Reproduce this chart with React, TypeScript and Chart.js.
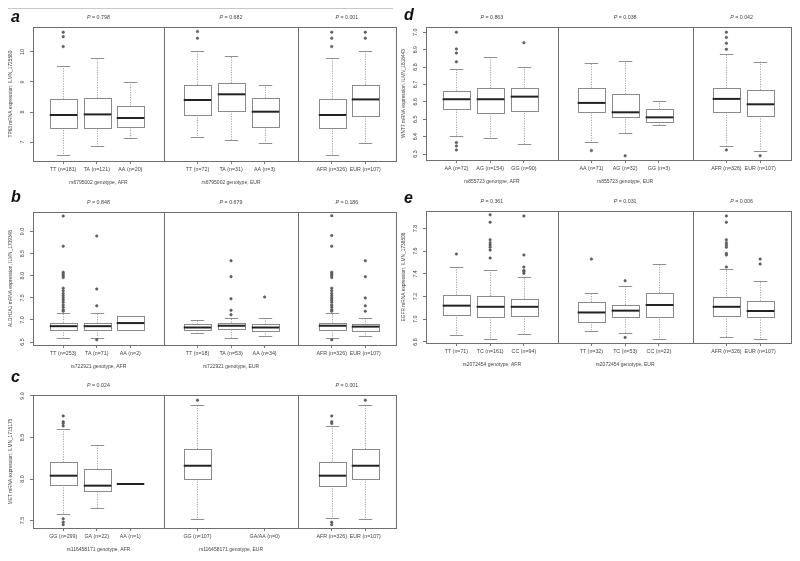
import React, { useEffect, useRef } from "react";
import { Chart, registerables } from "chart.js";
Chart.register(...registerables);

const FONT = "'Liberation Sans', Arial, Helvetica, sans-serif";

// ---------------- Panel a : TP63 / rs6795002 ----------------
const aLabels = ["TT (n=181)", "TA (n=121)", "AA (n=20)", "TT (n=72)", "TA (n=31)", "AA (n=3)", "AFR (n=326)", "EUR (n=107)"];
const aPos = [1, 2, 3, 5, 6, 7, 9, 10];
const aLow = [6.57, 6.87, 7.14, 7.18, 7.07, 6.98, 6.57, 6.96];
const aQ1 = [7.48, 7.46, 7.49, 7.9, 8.03, 7.49, 7.46, 7.88];
const aMed = [7.9, 7.92, 7.8, 8.4, 8.59, 8.01, 7.9, 8.42];
const aQ3 = [8.42, 8.46, 8.21, 8.9, 8.96, 8.46, 8.42, 8.9];
const aHigh = [9.54, 9.79, 8.99, 10.04, 9.88, 8.9, 9.79, 10.04];
const aOut = [[10.66, 10.51, 10.18], [], [], [10.68, 10.46], [], [], [10.66, 10.46, 10.18], [10.66, 10.46]];
const aYTicks = [7, 8, 9, 10];
const aYTickLabels = ["7", "8", "9", "10"];
const aP = ["P = 0.798", "P = 0.682", "P = 0.001"];
const aSub = ["rs6795002 genotype, AFR", "rs6795002 genotype, EUR"];
const aYTitle = "TP63 mRNA expression, ILMN_1725580";

// ---------------- Panel b : ALDH1A1 / rs722921 ----------------
const bLabels = ["TT (n=253)", "TA (n=71)", "AA (n=2)", "TT (n=18)", "TA (n=53)", "AA (n=34)", "AFR (n=326)", "EUR (n=107)"];
const bPos = [1, 2, 3, 5, 6, 7, 9, 10];
const bLow = [6.6, 6.6, 6.77, 6.71, 6.6, 6.64, 6.59, 6.64];
const bQ1 = [6.78, 6.78, 6.77, 6.77, 6.79, 6.76, 6.77, 6.76];
const bMed = [6.86, 6.86, 6.93, 6.83, 6.87, 6.83, 6.87, 6.85];
const bQ3 = [6.94, 6.94, 7.09, 6.9, 6.94, 6.9, 6.94, 6.9];
const bHigh = [7.15, 7.15, 7.09, 7.0, 7.04, 7.04, 7.15, 7.04];
const bOut = [
  [9.35, 8.67, 8.08, 8.04, 8.0, 7.96, 7.72, 7.66, 7.6, 7.55, 7.5, 7.45, 7.4, 7.34, 7.29, 7.23, 7.2],
  [8.9, 7.7, 7.32, 6.55],
  [],
  [],
  [8.34, 7.98, 7.48, 7.22, 7.12],
  [7.52],
  [9.36, 8.91, 8.67, 8.08, 8.04, 8.0, 7.96, 7.72, 7.66, 7.6, 7.55, 7.5, 7.45, 7.4, 7.34, 7.29, 7.23, 7.2, 6.55],
  [8.34, 7.98, 7.5, 7.32, 7.2],
];
const bYTicks = [6.5, 7, 7.5, 8, 8.5, 9];
const bYTickLabels = ["6.5", "7.0", "7.5", "8.0", "8.5", "9.0"];
const bP = ["P = 0.848", "P = 0.679", "P = 0.186"];
const bSub = ["rs722921 genotype, AFR", "rs722921 genotype, EUR"];
const bYTitle = "ALDH1A1 mRNA expression, ILMN_1709348";

// ---------------- Panel c : MET / rs116458171 ----------------
const cLabels = ["GG (n=299)", "GA (n=22)", "AA (n=1)", "GG (n=107)", "GA/AA (n=0)", "AFR (n=326)", "EUR (n=107)"];
const cPos = [1, 2, 3, 5, 7, 9, 10];
const cLow = [7.58, 7.65, 7.94, 7.52, null, 7.53, 7.52];
const cQ1 = [7.93, 7.85, 7.94, 8.0, null, 7.92, 8.0];
const cMed = [8.04, 7.92, 7.94, 8.16, null, 8.04, 8.16];
const cQ3 = [8.2, 8.12, 7.94, 8.36, null, 8.21, 8.36];
const cHigh = [8.6, 8.41, 7.94, 8.89, null, 8.64, 8.89];
const cOut = [[8.76, 8.69, 8.67, 8.64, 7.52, 7.48, 7.45], [], [], [8.95], [], [8.76, 8.69, 8.67, 7.48, 7.45], [8.95]];
const cYTicks = [7.5, 8, 8.5, 9];
const cYTickLabels = ["7.5", "8.0", "8.5", "9.0"];
const cP = ["P = 0.024", null, "P = 0.001"];
const cSub = ["rs116458171 genotype, AFR", "rs116458171 genotype, EUR"];
const cYTitle = "MET mRNA expression, ILMN_1715175";

// ---------------- Panel d : WNT7 / rs855723 ----------------
const dLabels = ["AA (n=72)", "AG (n=154)", "GG (n=90)", "AA (n=71)", "AG (n=32)", "GG (n=3)", "AFR (n=326)", "EUR (n=107)"];
const dPos = [1, 2, 3, 5, 6, 7, 9, 10];
const dLow = [6.404, 6.39, 6.358, 6.368, 6.42, 6.467, 6.348, 6.32];
const dQ1 = [6.557, 6.535, 6.55, 6.54, 6.515, 6.486, 6.54, 6.52];
const dMed = [6.615, 6.615, 6.63, 6.594, 6.54, 6.511, 6.617, 6.586];
const dQ3 = [6.664, 6.678, 6.682, 6.682, 6.645, 6.557, 6.678, 6.668];
const dHigh = [6.79, 6.86, 6.8, 6.825, 6.835, 6.605, 6.875, 6.831];
const dOut = [[7.0, 6.904, 6.88, 6.83, 6.366, 6.347, 6.324], [], [6.94], [6.32], [6.29], [], [7.0, 6.97, 6.937, 6.902, 6.324], [6.29]];
const dYTicks = [6.3, 6.4, 6.5, 6.6, 6.7, 6.8, 6.9, 7.0];
const dYTickLabels = ["6.3", "6.4", "6.5", "6.6", "6.7", "6.8", "6.9", "7.0"];
const dP = ["P = 0.863", "P = 0.038", "P = 0.042"];
const dSub = ["rs855723 genotype, AFR", "rs855723 genotype, EUR"];
const dYTitle = "WNT7 mRNA expression, ILMN_1818443";

// ---------------- Panel e : EGFR / rs2072454 ----------------
const eLabels = ["TT (n=71)", "TC (n=161)", "CC (n=94)", "TT (n=32)", "TC (n=53)", "CC (n=22)", "AFR (n=326)", "EUR (n=107)"];
const ePos = [1, 2, 3, 5, 6, 7, 9, 10];
const eLow = [6.86, 6.83, 6.87, 6.9, 6.88, 6.826, 6.84, 6.826];
const eQ1 = [7.04, 7.02, 7.03, 6.98, 7.023, 7.023, 7.03, 7.02];
const eMed = [7.12, 7.11, 7.11, 7.06, 7.076, 7.126, 7.11, 7.073];
const eQ3 = [7.21, 7.205, 7.176, 7.15, 7.126, 7.23, 7.2, 7.164];
const eHigh = [7.46, 7.43, 7.37, 7.23, 7.29, 7.485, 7.44, 7.34];
const eOut = [
  [7.575],
  [7.92, 7.855, 7.7, 7.675, 7.655, 7.635, 7.61, 7.54],
  [7.91, 7.567, 7.46, 7.43, 7.42, 7.405],
  [7.53],
  [7.34, 6.84],
  [],
  [7.91, 7.855, 7.7, 7.675, 7.655, 7.635, 7.58, 7.567, 7.46],
  [7.53, 7.487],
];
const eYTicks = [6.8, 7.0, 7.2, 7.4, 7.6, 7.8];
const eYTickLabels = ["6.8", "7.0", "7.2", "7.4", "7.6", "7.8"];
const eP = ["P = 0.361", "P = 0.031", "P = 0.006"];
const eSub = ["rs2072454 genotype, AFR", "rs2072454 genotype, EUR"];
const eYTitle = "EGFR mRNA expression, ILMN_1738508";

// x-range and sub-panel boundaries (in slot units)
const X_MIN = 0.1;
const X_MAX = 10.9;
const SUB_BOUNDS = [[0.1, 4], [4, 8], [8, 10.9]];

type Cfg = any;

const PANELS: Cfg[] = [
  { letter: "a", L: 33, T: 27, R: 397, B: 161, lx: 11, ly: 22, yMin: 6.367, yMax: 10.833, rule: true,
    labels: aLabels, pos: aPos, lo: aLow, q1: aQ1, med: aMed, q3: aQ3, hi: aHigh, out: aOut,
    yTicks: aYTicks, yTickLabels: aYTickLabels, p: aP, sub: aSub, yTitle: aYTitle },
  { letter: "b", L: 33, T: 212, R: 397, B: 345, lx: 11, ly: 202, yMin: 6.434, yMax: 9.443,
    labels: bLabels, pos: bPos, lo: bLow, q1: bQ1, med: bMed, q3: bQ3, hi: bHigh, out: bOut,
    yTicks: bYTicks, yTickLabels: bYTickLabels, p: bP, sub: bSub, yTitle: bYTitle },
  { letter: "c", L: 33, T: 395, R: 397, B: 528, lx: 11, ly: 382, yMin: 7.41, yMax: 9.012,
    labels: cLabels, pos: cPos, lo: cLow, q1: cQ1, med: cMed, q3: cQ3, hi: cHigh, out: cOut,
    yTicks: cYTicks, yTickLabels: cYTickLabels, p: cP, sub: cSub, yTitle: cYTitle },
  { letter: "d", L: 426, T: 27, R: 792, B: 160, lx: 404, ly: 20, yMin: 6.266, yMax: 7.03,
    labels: dLabels, pos: dPos, lo: dLow, q1: dQ1, med: dMed, q3: dQ3, hi: dHigh, out: dOut,
    yTicks: dYTicks, yTickLabels: dYTickLabels, p: dP, sub: dSub, yTitle: dYTitle },
  { letter: "e", L: 426, T: 211, R: 792, B: 343, lx: 404, ly: 203, yMin: 6.791, yMax: 7.954,
    labels: eLabels, pos: ePos, lo: eLow, q1: eQ1, med: eMed, q3: eQ3, hi: eHigh, out: eOut,
    yTicks: eYTicks, yTickLabels: eYTickLabels, p: eP, sub: eSub, yTitle: eYTitle },
];

const PAD_L = 33, PAD_T = 27, PAD_R = 3, X_H = 34, Y_W = 4;

function seg(ctx: CanvasRenderingContext2D, x1: number, y1: number, x2: number, y2: number) {
  ctx.beginPath();
  ctx.moveTo(x1, y1);
  ctx.lineTo(x2, y2);
  ctx.stroke();
}

function drawP(ctx: CanvasRenderingContext2D, text: string, cx: number, y: number) {
  const head = text.slice(0, 1);
  const rest = text.slice(1);
  const fi = `italic 5.3px ${FONT}`;
  const fn = `5.3px ${FONT}`;
  ctx.font = fi;
  const w1 = ctx.measureText(head).width;
  ctx.font = fn;
  const w2 = ctx.measureText(rest).width;
  const x0 = cx - (w1 + w2) / 2;
  ctx.textAlign = "left";
  ctx.textBaseline = "middle";
  ctx.font = fi;
  ctx.fillText(head, x0, y);
  ctx.font = fn;
  ctx.fillText(rest, x0 + w1, y);
}

function Panel({ cfg }: { cfg: Cfg }) {
  const ref = useRef<HTMLCanvasElement>(null);
  const w = cfg.R - cfg.L + PAD_L + PAD_R;
  const h = cfg.B - cfg.T + PAD_T + X_H;
  const ox = cfg.L - PAD_L;
  const oy = cfg.T - PAD_T;

  useEffect(() => {
    const outData: { x: number; y: number }[] = [];
    cfg.out.forEach((arr: number[], i: number) => arr.forEach((v) => outData.push({ x: cfg.pos[i], y: v })));

    const plugin = {
      id: "boxplot_" + cfg.letter,
      beforeDatasetsDraw(chart: any) {
        const ctx = chart.ctx as CanvasRenderingContext2D;
        const xs = chart.scales.x, ys = chart.scales.y;
        const unit = xs.getPixelForValue(1) - xs.getPixelForValue(0);
        const hw = 0.41 * unit, cw = 0.2 * unit;
        ctx.save();
        for (let i = 0; i < cfg.pos.length; i++) {
          const med = cfg.med[i];
          if (med == null) continue;
          const cx = Math.round(xs.getPixelForValue(cfg.pos[i])) + 0.5;
          const pLo = ys.getPixelForValue(cfg.lo[i]);
          const pQ1 = ys.getPixelForValue(cfg.q1[i]);
          const pMed = ys.getPixelForValue(med);
          const pQ3 = ys.getPixelForValue(cfg.q3[i]);
          const pHi = ys.getPixelForValue(cfg.hi[i]);
          ctx.strokeStyle = "#8f8f8f";
          ctx.lineWidth = 0.8;
          ctx.setLineDash([1.2, 1.3]);
          if (cfg.hi[i] > cfg.q3[i]) seg(ctx, cx, pQ3, cx, pHi);
          if (cfg.lo[i] < cfg.q1[i]) seg(ctx, cx, pQ1, cx, pLo);
          ctx.setLineDash([]);
          ctx.lineWidth = 1;
          if (cfg.hi[i] > cfg.q3[i]) seg(ctx, cx - cw, Math.round(pHi) + 0.5, cx + cw, Math.round(pHi) + 0.5);
          if (cfg.lo[i] < cfg.q1[i]) seg(ctx, cx - cw, Math.round(pLo) + 0.5, cx + cw, Math.round(pLo) + 0.5);
          if (cfg.q3[i] > cfg.q1[i]) {
            const x0 = Math.round(cx - hw) + 0.5;
            const x1 = Math.round(cx + hw) + 0.5;
            const y0 = Math.round(pQ3) + 0.5;
            const y1 = Math.round(pQ1) + 0.5;
            ctx.fillStyle = "#ffffff";
            ctx.fillRect(x0, y0, x1 - x0, y1 - y0);
            ctx.strokeStyle = "#8a8a8a";
            ctx.strokeRect(x0, y0, x1 - x0, y1 - y0);
          }
          ctx.strokeStyle = "#222222";
          ctx.lineWidth = 2;
          seg(ctx, cx - hw, pMed, cx + hw, pMed);
        }
        ctx.restore();
      },
      afterDraw(chart: any) {
        const ctx = chart.ctx as CanvasRenderingContext2D;
        const ca = chart.chartArea;
        const xs = chart.scales.x, ys = chart.scales.y;
        ctx.save();
        // frame and sub-panel dividers
        ctx.strokeStyle = "#6f6f6f";
        ctx.lineWidth = 1;
        ctx.strokeRect(Math.round(ca.left) + 0.5, Math.round(ca.top) + 0.5, Math.round(ca.right - ca.left), Math.round(ca.bottom - ca.top));
        for (let k = 1; k < SUB_BOUNDS.length; k++) {
          const xp = Math.round(xs.getPixelForValue(SUB_BOUNDS[k][0])) + 0.5;
          seg(ctx, xp, ca.top, xp, ca.bottom);
        }
        // y tick labels (rotated, like R)
        ctx.fillStyle = "#444";
        ctx.font = `5.3px ${FONT}`;
        ctx.textAlign = "center";
        ctx.textBaseline = "middle";
        cfg.yTicks.forEach((v: number, i: number) => {
          const yp = ys.getPixelForValue(v);
          ctx.save();
          ctx.translate(ca.left - 10, yp);
          ctx.rotate(-Math.PI / 2);
          ctx.fillText(cfg.yTickLabels[i], 0, 0);
          ctx.restore();
        });
        // y title
        ctx.save();
        ctx.font = `4.8px ${FONT}`;
        ctx.translate(ca.left - 22, (ca.top + ca.bottom) / 2);
        ctx.rotate(-Math.PI / 2);
        ctx.fillText(cfg.yTitle, 0, 0);
        ctx.restore();
        // P values and sub-panel titles
        SUB_BOUNDS.forEach((b, k) => {
          const cx = (xs.getPixelForValue(b[0]) + xs.getPixelForValue(b[1])) / 2;
          if (cfg.p[k]) drawP(ctx, cfg.p[k], cx, ca.top - 9);
          if (cfg.sub[k]) {
            ctx.font = `5px ${FONT}`;
            ctx.textAlign = "center";
            ctx.textBaseline = "middle";
            ctx.fillText(cfg.sub[k], cx, ca.bottom + 22);
          }
        });
        // panel letter
        ctx.fillStyle = "#111";
        ctx.font = `bold italic 16px ${FONT}`;
        ctx.textAlign = "left";
        ctx.textBaseline = "alphabetic";
        ctx.fillText(cfg.letter, cfg.lx - ox, cfg.ly - oy);
        if (cfg.rule) {
          ctx.strokeStyle = "#c8c8c8";
          ctx.lineWidth = 1;
          seg(ctx, 8 - ox, 8.5 - oy, 393 - ox, 8.5 - oy);
        }
        ctx.restore();
      },
    };

    const chart = new Chart(ref.current as HTMLCanvasElement, {
      type: "scatter",
      data: {
        datasets: [
          {
            data: outData,
            pointRadius: 1.25,
            pointBackgroundColor: "#666",
            pointBorderColor: "#444",
            pointBorderWidth: 0.5,
          },
        ],
      },
      options: {
        responsive: false,
        animation: false,
        events: [],
        layout: { padding: { left: PAD_L - Y_W, top: PAD_T, right: PAD_R, bottom: 0 } },
        plugins: { legend: { display: false }, tooltip: { enabled: false } },
        scales: {
          x: {
            type: "linear",
            min: X_MIN,
            max: X_MAX,
            afterBuildTicks: (s: any) => {
              s.ticks = cfg.pos.map((v: number) => ({ value: v }));
            },
            afterFit: (s: any) => {
              s.height = X_H;
            },
            grid: { drawOnChartArea: false, drawTicks: true, tickLength: 3, color: "#777" },
            border: { display: false },
            ticks: {
              autoSkip: false,
              maxRotation: 0,
              minRotation: 0,
              padding: 2,
              color: "#444",
              font: { family: FONT, size: 5.3 },
              callback: (_v: any, i: number) => cfg.labels[i],
            },
          },
          y: {
            type: "linear",
            min: cfg.yMin,
            max: cfg.yMax,
            afterBuildTicks: (s: any) => {
              s.ticks = cfg.yTicks.map((v: number) => ({ value: v }));
            },
            afterFit: (s: any) => {
              s.width = Y_W;
            },
            grid: { drawOnChartArea: false, drawTicks: true, tickLength: 3, color: "#777" },
            border: { display: false },
            ticks: { display: false },
          },
        },
      } as any,
      plugins: [plugin],
    });
    return () => chart.destroy();
  }, []);

  return (
    <canvas
      ref={ref}
      width={w}
      height={h}
      style={{ position: "absolute", left: ox, top: oy, width: w, height: h }}
    />
  );
}

export default function App() {
  return (
    <div style={{ position: "absolute", left: 0, top: 0, width: 800, height: 561, background: "#fff", overflow: "hidden" }}>
      {PANELS.map((p) => (
        <Panel key={p.letter} cfg={p} />
      ))}
    </div>
  );
}
